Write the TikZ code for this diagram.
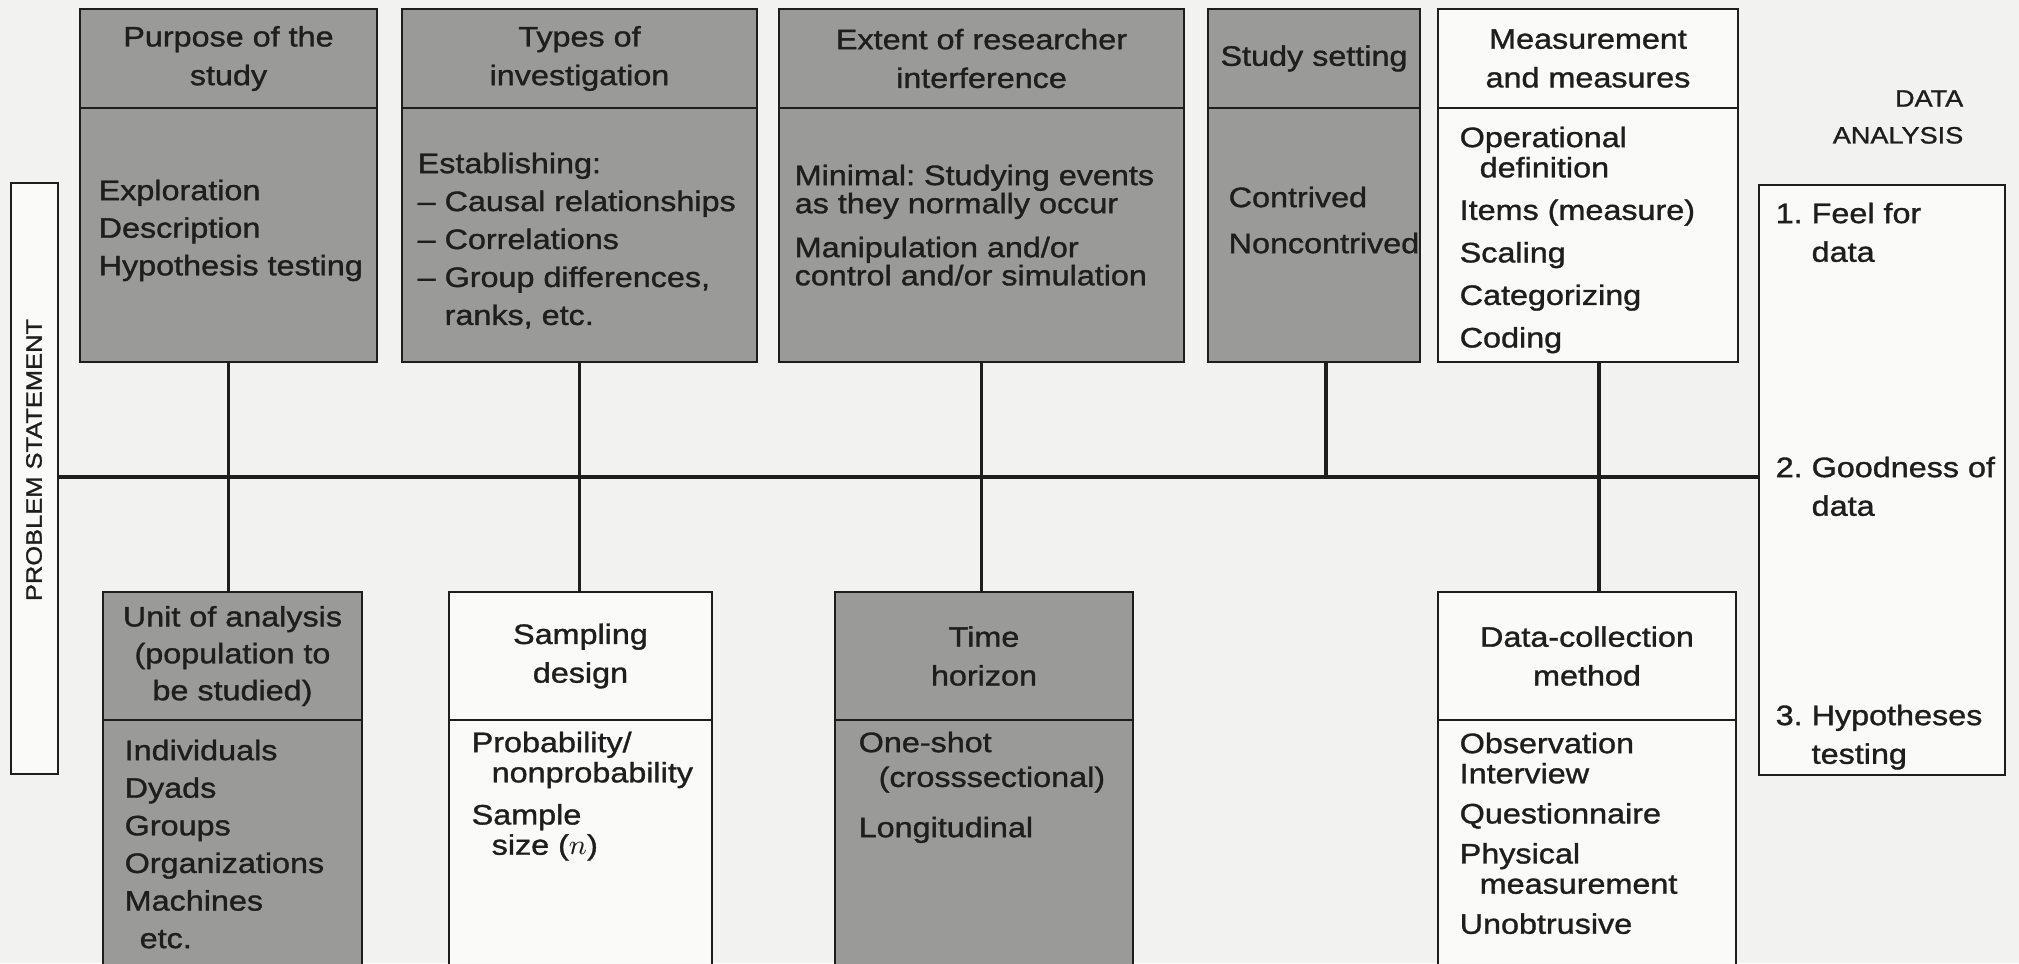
\documentclass[tikz,border=0pt]{standalone}
\usepackage{fontspec}
\setmainfont{Liberation Sans}[FakeStretch=1.15,FakeBold=1.2]
\usetikzlibrary{positioning}
\definecolor{paper}{RGB}{242,242,240}
\definecolor{shade}{RGB}{154,154,152}
\definecolor{ink}{RGB}{30,30,30}
\newcommand{\hdfont}{\fontsize{8}{11}\selectfont}
\newcommand{\txfont}{\fontsize{8}{8.6}\selectfont}
\newcommand{\ind}{\hspace*{2mm}}
\frenchspacing
\tikzset{%
	head/.style     = {draw=ink, line width=0.8pt, outer sep=0pt, inner sep=0pt, align=center, font=\hdfont, text=ink}, % Box title
	body/.style     = {draw=ink, line width=0.8pt, outer sep=0pt, inner sep=0pt}, % Box frame
	greybox/.style  = {fill=shade},
	whitebox/.style = {fill=paper!40!white},
	tophead/.style  = {minimum height=9.9mm},
	lowhead/.style  = {minimum height=12.8mm},
	entry/.style    = {anchor=north west, inner sep=0pt, align=left, font=\txfont, text=ink}, % Box text
	wire/.style     = {draw=ink, line width=1pt},
}

\begin{document}
\begin{tikzpicture}[x=0.1mm, y=-0.1mm]
	\useasboundingbox[fill=paper] (0,0) rectangle (2019,963);
	\clip (0,0) rectangle (2019,963);
	\coordinate (spine) at (0,477);

	% upper row
	\node[head,greybox,tophead,minimum width=29.7mm] (purpose) at (228.5,58.5) {Purpose of the\\study};
	\node[body,greybox,minimum width=29.7mm,minimum height=25.4mm,below=0pt of purpose] (purpose-b) {};
	\node[head,greybox,tophead,minimum width=35.5mm] (kind) at (579.5,58.5) {Types of\\investigation};
	\node[body,greybox,minimum width=35.5mm,minimum height=25.4mm,below=0pt of kind] (kind-b) {};
	\node[head,greybox,tophead,minimum width=40.5mm] (interfere) at (981.5,58.5) {Extent of researcher\\interference};
	\node[body,greybox,minimum width=40.5mm,minimum height=25.4mm,below=0pt of interfere] (interfere-b) {};
	\node[head,greybox,tophead,minimum width=21.2mm] (setting) at (1314,58.5) {Study setting};
	\node[body,greybox,minimum width=21.2mm,minimum height=25.4mm,below=0pt of setting] (setting-b) {};
	\node[head,whitebox,tophead,minimum width=30mm] (measure) at (1588,58.5) {Measurement\\and measures};
	\node[body,whitebox,minimum width=30mm,minimum height=25.4mm,below=0pt of measure] (measure-b) {};

	% lower row
	\node[head,greybox,lowhead,minimum width=25.9mm,font=\fontsize{8}{10.5}\selectfont] (unit) at (232.5,656) {Unit of analysis\\(population to\\be studied)};
	\node[body,greybox,minimum width=25.9mm,minimum height=29mm,below=0pt of unit] (unit-b) {};
	\node[head,whitebox,lowhead,minimum width=26.3mm] (sampling) at (580.5,656) {Sampling\\design};
	\node[body,whitebox,minimum width=26.3mm,minimum height=29mm,below=0pt of sampling] (sampling-b) {};
	\node[head,greybox,lowhead,minimum width=29.8mm] (horizon) at (984,656) {Time\\horizon};
	\node[body,greybox,minimum width=29.8mm,minimum height=29mm,below=0pt of horizon] (horizon-b) {};
	\node[head,whitebox,lowhead,minimum width=29.8mm] (collect) at (1587,656) {Data-collection\\method};
	\node[body,whitebox,minimum width=29.8mm,minimum height=29mm,below=0pt of collect] (collect-b) {};

	% side boxes
	\node[body,whitebox,minimum width=4.7mm,minimum height=59.1mm] (problem) at (34.5,478.5) {};
	\node[rotate=90,inner sep=0pt,font=\fontsize{6.3}{7}\selectfont,text=ink] (problem-t) at (34,460) {PROBLEM STATEMENT};
	\node[body,whitebox,minimum width=24.6mm,minimum height=59mm] (analysis) at (1882,480) {};
	\node[head,draw=none,align=right,font=\fontsize{6.7}{10.5}\selectfont] (analysis-h) at (1898,117) {DATA\\ANALYSIS};

	% box contents
	\node[entry] (purpose-t) at (98,179) {Exploration\\[2.1pt]Description\\[2.1pt]Hypothesis testing};
	\node[entry] (kind-t) at (417,152) {Establishing:\\[2.2pt]– Causal relationships\\[2.2pt]– Correlations\\[2.2pt]– Group differences,\\[2.2pt]\phantom{– }ranks, etc.};
	\node[entry] (interfere-t) at (794,164) {Minimal: Studying events\\[-0.6pt]as they normally occur\\[3.9pt]Manipulation and/or\\[-0.6pt]control and/or simulation};
	\node[entry] (setting-t) at (1228,186) {Contrived\\[4.5pt]Noncontrived};
	\node[entry] (measure-t) at (1459,126) {Operational\\\ind definition\\[3.5pt]Items (measure)\\[3.5pt]Scaling\\[3.5pt]Categorizing\\[3.5pt]Coding};
	\node[entry] (unit-t) at (124,739) {Individuals\\[2.1pt]Dyads\\[2.1pt]Groups\\[2.1pt]Organizations\\[2.1pt]Machines\\[2.1pt]\hspace*{1.5mm}etc.};
	\node[entry] (sampling-t) at (471,731) {Probability/\\\ind nonprobability\\[3.4pt]Sample\\\ind size ($n$)};
	\node[entry] (horizon-t) at (858,731) {One-shot\\[1.3pt]\ind (crosssectional)\\[5.7pt]Longitudinal};
	\node[entry] (collect-t) at (1459,732) {Observation\\Interview\\[2.8pt]Questionnaire\\[2.8pt]Physical\\\ind measurement\\[2.8pt]Unobtrusive};
	\node[entry] (feel) at (1775,202) {1. Feel for\\[2.4pt]\phantom{1. }data};
	\node[entry] (goodness) at (1775,456) {2. Goodness of\\[2.4pt]\phantom{2. }data};
	\node[entry] (testing) at (1775,704) {3. Hypotheses\\[2.4pt]\phantom{3. }testing};

	% connectors
	\draw[wire] (problem.east |- spine) -- (analysis.west |- spine);
	\draw[wire] (purpose-b) -- (purpose-b |- unit.north);
	\draw[wire] (kind-b) -- (kind-b |- sampling.north);
	\draw[wire] (interfere-b) -- (interfere-b |- horizon.north);
	\draw[wire] ([xshift=1.2mm]setting-b.south) -- ([xshift=1.2mm]setting-b.south |- spine);
	\draw[wire] ([xshift=1.1mm]measure-b.south) -- ([xshift=1.1mm]measure-b.south |- collect.north);
\end{tikzpicture}
\end{document}
